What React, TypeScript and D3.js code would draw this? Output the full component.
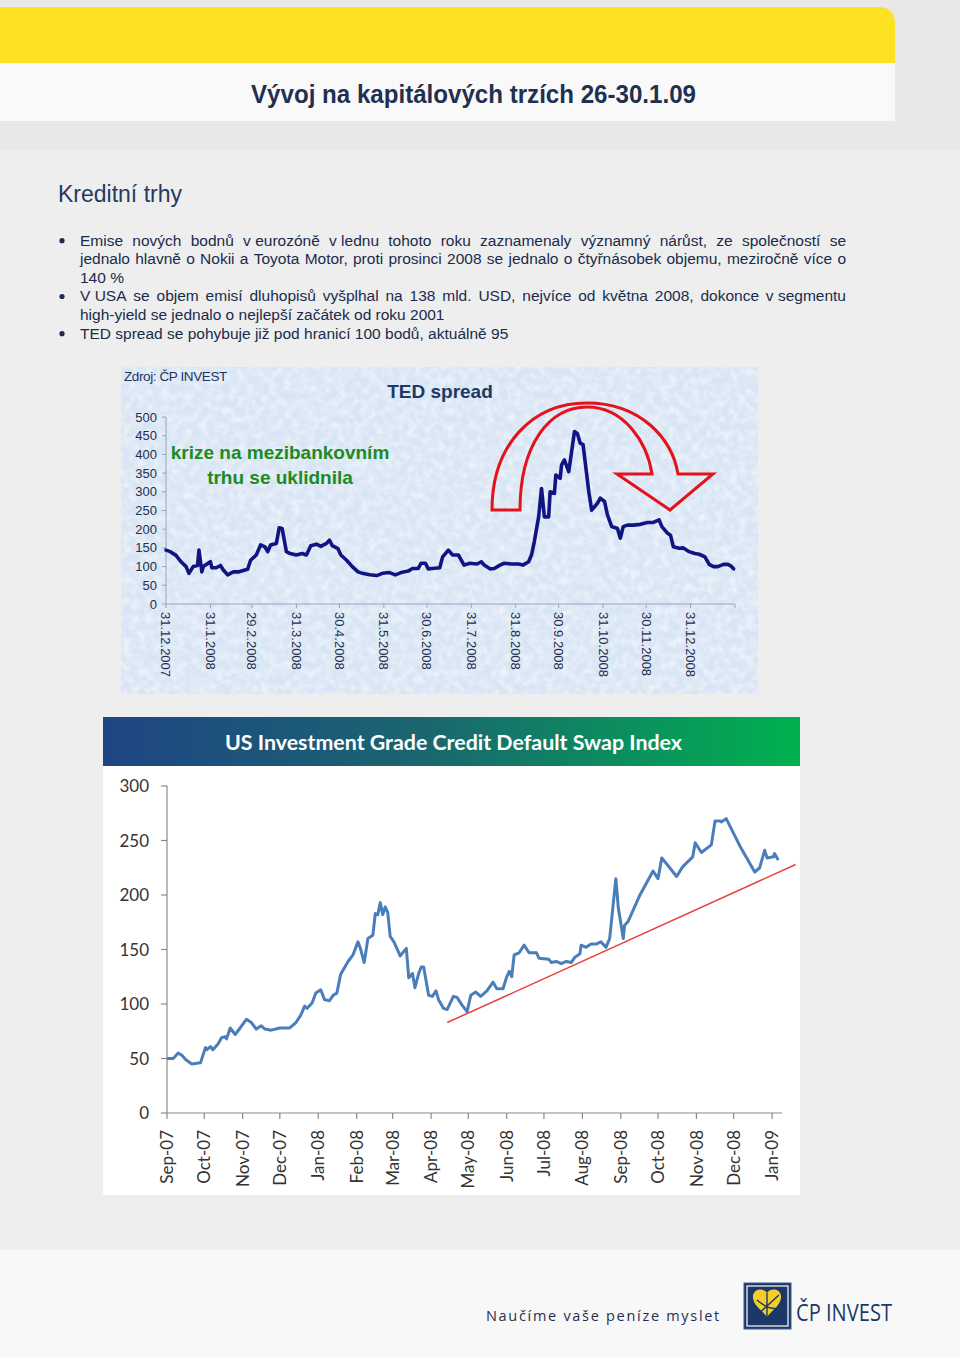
import React, { useEffect, useRef } from "react";
import * as d3 from "d3";

const W = 960;
const H = 1358;

const PAGE_TITLE = "Vývoj na kapitálových trzích 26-30.1.09";
const SECTION_TITLE = "Kreditní trhy";
const BULLET_TEXT = [
  "Emise nových bodnů v\u00a0eurozóně v\u00a0lednu tohoto roku zaznamenaly významný nárůst, ze společností se",
  "jednalo hlavně o Nokii a Toyota Motor, proti prosinci 2008 se jednalo o čtyřnásobek objemu, meziročně více o",
  "140 %",
  "V\u00a0USA se objem emisí dluhopisů vyšplhal na 138 mld. USD, nejvíce od května 2008, dokonce v\u00a0segmentu",
  "high-yield se jednalo o nejlepší začátek od roku 2001",
  "TED spread se pohybuje již pod hranicí 100 bodů, aktuálně 95",
];
const BULLET_START = [true, false, false, true, false, true];
const BULLET_JUSTIFY = [true, true, false, true, false, false];

// ---- TED spread chart ----
const TED_TITLE = "TED spread";
const TED_SOURCE = "Zdroj: ČP INVEST";
const TED_NOTE = ["krize na mezibankovním", "trhu se uklidnila"];
const TED_DATES = [
  "2007-12-31", "2008-01-03", "2008-01-07", "2008-01-10", "2008-01-14", "2008-01-16", "2008-01-19", "2008-01-22",
  "2008-01-23", "2008-01-25", "2008-01-26", "2008-01-31", "2008-02-01", "2008-02-04", "2008-02-07", "2008-02-09",
  "2008-02-12", "2008-02-16", "2008-02-20", "2008-02-24", "2008-02-26", "2008-02-28", "2008-03-03", "2008-03-06",
  "2008-03-09", "2008-03-11", "2008-03-13", "2008-03-17", "2008-03-19", "2008-03-21", "2008-03-24", "2008-03-26",
  "2008-03-31", "2008-04-04", "2008-04-07", "2008-04-10", "2008-04-14", "2008-04-17", "2008-04-21", "2008-04-23",
  "2008-04-25", "2008-04-29", "2008-05-01", "2008-05-05", "2008-05-09", "2008-05-13", "2008-05-16", "2008-05-21",
  "2008-05-26", "2008-05-30", "2008-06-04", "2008-06-08", "2008-06-12", "2008-06-17", "2008-06-20", "2008-06-24",
  "2008-06-26", "2008-06-29", "2008-07-01", "2008-07-04", "2008-07-09", "2008-07-11", "2008-07-15", "2008-07-18",
  "2008-07-22", "2008-07-26", "2008-07-30", "2008-08-04", "2008-08-07", "2008-08-09", "2008-08-13", "2008-08-16",
  "2008-08-20", "2008-08-23", "2008-08-28", "2008-09-02", "2008-09-05", "2008-09-09", "2008-09-11", "2008-09-13",
  "2008-09-16", "2008-09-18", "2008-09-20", "2008-09-23", "2008-09-24", "2008-09-27", "2008-09-28", "2008-10-01",
  "2008-10-02", "2008-10-04", "2008-10-07", "2008-10-09", "2008-10-11", "2008-10-13", "2008-10-15", "2008-10-17",
  "2008-10-19", "2008-10-21", "2008-10-23", "2008-10-25", "2008-10-27", "2008-10-29", "2008-11-01", "2008-11-03",
  "2008-11-06", "2008-11-10", "2008-11-12", "2008-11-14", "2008-11-17", "2008-11-21", "2008-11-26", "2008-12-01",
  "2008-12-05", "2008-12-09", "2008-12-11", "2008-12-15", "2008-12-17", "2008-12-19", "2008-12-23", "2008-12-26",
  "2008-12-30", "2009-01-03", "2009-01-06", "2009-01-10", "2009-01-13", "2009-01-16", "2009-01-19", "2009-01-23",
  "2009-01-26", "2009-01-28", "2009-01-30",
];
const TED_VALUES = [
  144, 140, 130, 115, 100, 82, 100, 103, 144, 86, 100, 113, 97, 97, 103, 91,
  78, 86, 86, 91, 93, 117, 131, 158, 153, 140, 158, 162, 204, 202, 140, 136,
  131, 135, 131, 156, 160, 154, 162, 171, 156, 148, 131, 117, 100, 86, 82, 78,
  76, 82, 84, 78, 84, 88, 95, 95, 109, 109, 94, 95, 97, 126, 144, 131,
  131, 104, 109, 107, 113, 104, 94, 95, 104, 109, 107, 107, 104, 113, 131, 167,
  233, 309, 233, 233, 300, 296, 345, 336, 372, 385, 354, 407, 461, 456, 430, 426,
  363, 300, 251, 260, 269, 283, 274, 238, 207, 202, 176, 207, 211, 211, 213, 218,
  218, 225, 207, 189, 184, 153, 149, 150, 140, 135, 133, 126, 106, 100, 100, 106,
  106, 102, 94,
];
const TED_X_DOMAIN = ["2007-12-31", "2009-01-31"];
const TED_X_TICKS = [
  "2007-12-31", "2008-01-31", "2008-02-29", "2008-03-31", "2008-04-30", "2008-05-31", "2008-06-30",
  "2008-07-31", "2008-08-31", "2008-09-30", "2008-10-31", "2008-11-30", "2008-12-31",
];
const TED_Y_TICKS = [0, 50, 100, 150, 200, 250, 300, 350, 400, 450, 500];

// ---- CDS chart ----
const CDS_TITLE = "US Investment Grade Credit Default Swap Index";
const CDS_DATES = [
  "2007-09-01", "2007-09-06", "2007-09-10", "2007-09-13", "2007-09-16", "2007-09-21", "2007-09-28", "2007-10-02",
  "2007-10-03", "2007-10-06", "2007-10-08", "2007-10-12", "2007-10-15", "2007-10-18", "2007-10-19", "2007-10-22",
  "2007-10-26", "2007-10-30", "2007-11-04", "2007-11-08", "2007-11-12", "2007-11-16", "2007-11-19", "2007-11-24",
  "2007-12-01", "2007-12-09", "2007-12-14", "2007-12-18", "2007-12-21", "2007-12-23", "2007-12-27", "2007-12-30",
  "2008-01-03", "2008-01-06", "2008-01-10", "2008-01-13", "2008-01-16", "2008-01-19", "2008-01-25", "2008-01-29",
  "2008-02-02", "2008-02-04", "2008-02-07", "2008-02-08", "2008-02-10", "2008-02-14", "2008-02-16", "2008-02-18",
  "2008-02-20", "2008-02-22", "2008-02-24", "2008-02-26", "2008-02-28", "2008-03-02", "2008-03-06", "2008-03-07",
  "2008-03-12", "2008-03-14", "2008-03-17", "2008-03-19", "2008-03-22", "2008-03-24", "2008-03-26", "2008-03-30",
  "2008-04-02", "2008-04-05", "2008-04-07", "2008-04-11", "2008-04-14", "2008-04-19", "2008-04-22", "2008-04-26",
  "2008-04-30", "2008-05-03", "2008-05-07", "2008-05-11", "2008-05-16", "2008-05-21", "2008-05-24", "2008-05-29",
  "2008-06-01", "2008-06-03", "2008-06-05", "2008-06-07", "2008-06-11", "2008-06-15", "2008-06-19", "2008-06-25",
  "2008-06-27", "2008-07-05", "2008-07-07", "2008-07-11", "2008-07-15", "2008-07-19", "2008-07-23", "2008-07-26",
  "2008-07-30", "2008-07-31", "2008-08-04", "2008-08-08", "2008-08-12", "2008-08-16", "2008-08-20", "2008-08-23",
  "2008-08-28", "2008-08-30", "2008-09-03", "2008-09-04", "2008-09-07", "2008-09-16", "2008-09-27", "2008-10-01",
  "2008-10-04", "2008-10-09", "2008-10-16", "2008-10-21", "2008-10-29", "2008-10-31", "2008-11-05", "2008-11-13",
  "2008-11-16", "2008-11-20", "2008-11-21", "2008-11-25", "2008-12-06", "2008-12-18", "2008-12-22", "2008-12-26",
  "2008-12-28", "2009-01-02", "2009-01-03", "2009-01-06",
];
const CDS_VALUES = [
  50, 50, 55, 53, 49, 45, 46, 60, 58, 61, 58, 63, 69, 70, 68, 78,
  72, 78, 86, 83, 77, 80, 77, 76, 78, 78, 83, 90, 98, 96, 101, 110,
  113, 104, 103, 108, 110, 127, 139, 145, 157, 151, 138, 145, 160, 163, 183, 182,
  193, 182, 189, 184, 162, 157, 147, 144, 151, 124, 128, 115, 128, 134, 134, 108,
  107, 112, 104, 96, 95, 107, 106, 99, 93, 108, 111, 107, 112, 120, 114, 114,
  125, 130, 125, 145, 147, 154, 147, 147, 142, 141, 138, 139, 137, 139, 138, 143,
  146, 154, 152, 155, 155, 157, 152, 160, 215, 188, 160, 172, 176, 199, 222, 215,
  234, 227, 217, 226, 235, 248, 239, 246, 268, 268, 267, 270, 245, 221, 225, 241,
  234, 235, 238, 232,
];
const CDS_TREND_DATES = ["2008-04-14", "2009-01-20"];
const CDS_TREND_VALUES = [83, 228];
const CDS_X_DOMAIN = ["2007-09-01", "2009-01-09"];
const CDS_X_TICKS = [
  "2007-09-01", "2007-10-01", "2007-11-01", "2007-12-01", "2008-01-01", "2008-02-01", "2008-03-01", "2008-04-01",
  "2008-05-01", "2008-06-01", "2008-07-01", "2008-08-01", "2008-09-01", "2008-10-01", "2008-11-01", "2008-12-01",
  "2009-01-01",
];
const CDS_Y_TICKS = [0, 50, 100, 150, 200, 250, 300];

const FOOTER_SLOGAN = "Naučíme vaše peníze myslet";
const FOOTER_BRAND = "ČP INVEST";

const parse = d3.timeParse("%Y-%m-%d");
const fmtTed = (d: Date) => `${d.getDate()}.${d.getMonth() + 1}.${d.getFullYear()}`;
const fmtCds = d3.timeFormat("%b-%y");

export default function App() {
  const ref = useRef<SVGSVGElement>(null);

  useEffect(() => {
    document.body.style.margin = "0";
    document.body.style.overflow = "hidden";
    const svg = d3.select(ref.current!);
    svg.selectAll("*").remove();

    const defs = svg.append("defs");
    const grad = defs.append("linearGradient").attr("id", "cdsHead").attr("x1", "0").attr("x2", "1").attr("y1", "0").attr("y2", "0");
    grad.append("stop").attr("offset", "0%").attr("stop-color", "#1f4584");
    grad.append("stop").attr("offset", "45%").attr("stop-color", "#1a6570");
    grad.append("stop").attr("offset", "100%").attr("stop-color", "#00b14f");

    const filt = defs.append("filter").attr("id", "tex").attr("x", 0).attr("y", 0).attr("width", "100%").attr("height", "100%");
    filt.append("feTurbulence").attr("type", "fractalNoise").attr("baseFrequency", "0.13").attr("numOctaves", 2).attr("seed", 7);
    filt.append("feColorMatrix").attr("type", "matrix")
      .attr("values", "0 0 0 0 1  0 0 0 0 1  0 0 0 0 1  2.0 0 0 0 -0.7");

    // ---- page background ----
    svg.append("rect").attr("x", 0).attr("y", 0).attr("width", W).attr("height", 1250).attr("fill", "#eeeeee");
    svg.append("rect").attr("x", 0).attr("y", 0).attr("width", W).attr("height", 150).attr("fill", "#e8e8e8");
    svg.append("rect").attr("x", 0).attr("y", 1250).attr("width", W).attr("height", H - 1250).attr("fill", "#f8f8f8");
    svg.append("path").attr("d", "M0,7 H878 Q895,7 895,24 V63 H0 Z").attr("fill", "#fde123");
    svg.append("rect").attr("x", 0).attr("y", 63).attr("width", 895).attr("height", 58).attr("fill", "#f9f9f9");

    svg.append("text").attr("x", 251).attr("y", 103)
      .attr("font-family", "'Liberation Sans', Arial, sans-serif")
      .attr("font-weight", "bold").attr("font-size", 25).attr("fill", "#1f3050")
      .attr("textLength", 445).attr("lengthAdjust", "spacingAndGlyphs").text(PAGE_TITLE);

    svg.append("text").attr("x", 58).attr("y", 202)
      .attr("font-family", "'Liberation Sans', Arial, sans-serif").attr("font-size", 23).attr("fill", "#243a5e").text(SECTION_TITLE);

    // ---- bullets ----
    const bg = svg.append("g").attr("font-family", "'Liberation Sans', Arial, sans-serif").attr("font-size", 15.5).attr("fill", "#1a2b4c");
    const x0 = 80, x1 = 846;
    BULLET_TEXT.forEach((line, i) => {
      const y = 245.5 + i * 18.6;
      if (BULLET_START[i]) bg.append("circle").attr("cx", 62).attr("cy", y - 4.8).attr("r", 2.6).attr("fill", "#1a2b4c");
      if (!BULLET_JUSTIFY[i]) {
        bg.append("text").attr("x", x0).attr("y", y).text(line);
        return;
      }
      const words = line.split(" ");
      const nodes = words.map((w) => bg.append("text").attr("y", y).text(w));
      const widths = nodes.map((n) => (n.node() as SVGTextElement).getComputedTextLength());
      const total = widths.reduce((a, b) => a + b, 0);
      const gap = (x1 - x0 - total) / (words.length - 1);
      let x = x0;
      nodes.forEach((n, k) => {
        n.attr("x", x);
        x += widths[k] + gap;
      });
    });

    // ---- TED chart ----
    const ted = svg.append("g");
    ted.append("rect").attr("x", 121).attr("y", 367).attr("width", 637).attr("height", 327).attr("fill", "#d8e5f4");
    ted.append("rect").attr("x", 121).attr("y", 367).attr("width", 637).attr("height", 327).attr("filter", "url(#tex)").attr("opacity", 0.55);

    const tx = d3.scaleTime().domain(TED_X_DOMAIN.map((d) => parse(d)!)).range([166, 735]);
    const ty = d3.scaleLinear().domain([0, 500]).range([604, 417]);
    const tf = "'Liberation Sans', Arial, sans-serif";

    ted.append("text").attr("x", 124).attr("y", 381).attr("font-family", tf).attr("font-size", 13.5)
      .attr("letter-spacing", -0.4).attr("fill", "#1f3560").text(TED_SOURCE);
    ted.append("text").attr("x", 440).attr("y", 398).attr("text-anchor", "middle").attr("font-family", tf)
      .attr("font-weight", "bold").attr("font-size", 19).attr("fill", "#1f3864").text(TED_TITLE);

    const axisColor = "#94a6c2";
    ted.append("line").attr("x1", 166).attr("x2", 166).attr("y1", ty(500)).attr("y2", ty(0)).attr("stroke", axisColor);
    ted.append("line").attr("x1", 166).attr("x2", 735).attr("y1", ty(0)).attr("y2", ty(0)).attr("stroke", axisColor);
    TED_Y_TICKS.forEach((v) => {
      ted.append("line").attr("x1", 162).attr("x2", 166).attr("y1", ty(v)).attr("y2", ty(v)).attr("stroke", axisColor);
      ted.append("text").attr("x", 157).attr("y", ty(v) + 4.5).attr("text-anchor", "end").attr("font-family", tf)
        .attr("font-size", 13).attr("fill", "#1f2f50").text(String(v));
    });
    [...TED_X_TICKS, TED_X_DOMAIN[1]].forEach((d) => {
      const x = tx(parse(d)!);
      ted.append("line").attr("x1", x).attr("x2", x).attr("y1", ty(0)).attr("y2", ty(0) + 4).attr("stroke", axisColor);
    });
    TED_X_TICKS.forEach((d) => {
      const dt = parse(d)!;
      ted.append("text").attr("transform", `translate(${tx(dt)},612) rotate(90)`).attr("dy", "0.35em")
        .attr("font-family", tf).attr("font-size", 13).attr("fill", "#1f2f50").text(fmtTed(dt));
    });

    TED_NOTE.forEach((t, i) => {
      ted.append("text").attr("x", 280).attr("y", 458.5 + i * 25.5).attr("text-anchor", "middle").attr("font-family", tf)
        .attr("font-weight", "bold").attr("font-size", 19).attr("fill", "#1d8a22").text(t);
    });

    const tedData = TED_DATES.map((d, i) => ({ d: parse(d)!, v: TED_VALUES[i] }));
    const tedLine = d3.line<{ d: Date; v: number }>().x((p) => tx(p.d)).y((p) => ty(p.v));
    ted.append("path").attr("d", tedLine(tedData)!).attr("fill", "none").attr("stroke", "#111584")
      .attr("stroke-width", 3.6).attr("stroke-linejoin", "round").attr("stroke-linecap", "round");

    // curved arrow
    ted.append("path")
      .attr("d", "M492,510 C492,445 532,403 587,403 C640,403 672,438 678,474 L713,474 L670,510 L617,474 L652,474 C647,442 624,407 587,407 C549,407 520,445 520,510 Z")
      .attr("fill", "none").attr("stroke", "#e3121b").attr("stroke-width", 3).attr("stroke-linejoin", "miter");

    // ---- CDS chart ----
    const cds = svg.append("g");
    cds.append("rect").attr("x", 103).attr("y", 717).attr("width", 697).attr("height", 49).attr("fill", "url(#cdsHead)");
    cds.append("rect").attr("x", 103).attr("y", 766).attr("width", 697).attr("height", 429).attr("fill", "#ffffff");
    cds.append("text").attr("x", 225).attr("y", 750)
      .attr("font-family", "Lato, 'Open Sans', sans-serif").attr("font-weight", "bold").attr("font-size", 21)
      .attr("textLength", 457).attr("lengthAdjust", "spacingAndGlyphs")
      .attr("fill", "#ffffff").text(CDS_TITLE);

    const cx = d3.scaleTime().domain(CDS_X_DOMAIN.map((d) => parse(d)!)).range([167, 782]);
    const cy = d3.scaleLinear().domain([0, 300]).range([1113, 786]);
    const cf = "Lato, 'Open Sans', sans-serif";
    const cAxis = "#8a8a8a";
    cds.append("line").attr("x1", 167).attr("x2", 167).attr("y1", cy(300)).attr("y2", cy(0)).attr("stroke", cAxis).attr("stroke-width", 1.2);
    cds.append("line").attr("x1", 167).attr("x2", 782).attr("y1", cy(0)).attr("y2", cy(0)).attr("stroke", cAxis).attr("stroke-width", 1.2);
    CDS_Y_TICKS.forEach((v) => {
      cds.append("line").attr("x1", 161).attr("x2", 167).attr("y1", cy(v)).attr("y2", cy(v)).attr("stroke", cAxis).attr("stroke-width", 1.2);
      cds.append("text").attr("x", 149).attr("y", cy(v) + 6).attr("text-anchor", "end").attr("font-family", cf)
        .attr("font-size", 17).attr("fill", "#333333").text(String(v));
    });
    CDS_X_TICKS.forEach((d) => {
      const dt = parse(d)!;
      const x = cx(dt);
      cds.append("line").attr("x1", x).attr("x2", x).attr("y1", cy(0)).attr("y2", cy(0) + 6).attr("stroke", cAxis).attr("stroke-width", 1.2);
      cds.append("text").attr("transform", `translate(${x},1130) rotate(-90)`).attr("dy", "0.36em").attr("text-anchor", "end")
        .attr("font-family", cf).attr("font-size", 17).attr("fill", "#333333").text(fmtCds(dt));
    });

    const cdsData = CDS_DATES.map((d, i) => ({ d: parse(d)!, v: CDS_VALUES[i] }));
    const cdsLine = d3.line<{ d: Date; v: number }>().x((p) => cx(p.d)).y((p) => cy(p.v));
    cds.append("path").attr("d", cdsLine(cdsData)!).attr("fill", "none").attr("stroke", "#4a7ebb")
      .attr("stroke-width", 3).attr("stroke-linejoin", "round");
    const trend = CDS_TREND_DATES.map((d, i) => ({ d: parse(d)!, v: CDS_TREND_VALUES[i] }));
    cds.append("path").attr("d", cdsLine(trend)!).attr("fill", "none").attr("stroke", "#e8403f").attr("stroke-width", 1.5);

    // ---- footer ----
    svg.append("text").attr("x", 486).attr("y", 1321).attr("font-family", "'Open Sans', sans-serif").attr("font-size", 14.5)
      .attr("letter-spacing", 1.7).attr("fill", "#1f3050").text(FOOTER_SLOGAN);
    const logo = svg.append("g");
    logo.append("rect").attr("x", 744).attr("y", 1283).attr("width", 47).attr("height", 46).attr("fill", "#1c3868")
      .attr("stroke", "#3c5a8c").attr("stroke-width", 1);
    logo.append("rect").attr("x", 747).attr("y", 1286).attr("width", 41).attr("height", 40).attr("fill", "none")
      .attr("stroke", "#ffffff").attr("stroke-width", 1.2);
    logo.append("path")
      .attr("d", "M767,1293 C763,1287 752,1289 753,1298 C754,1306 762,1310 767,1317 C772,1310 780,1306 781,1298 C782,1289 771,1287 767,1293 Z")
      .attr("fill", "#f3cd2d");
    logo.append("path").attr("d", "M756,1316 L779,1295 M757,1300 C764,1306 772,1310 779,1308 M767,1293 L767,1322")
      .attr("stroke", "#1c3868").attr("stroke-width", 1.4).attr("fill", "none");
    svg.append("text").attr("x", 796).attr("y", 1321).attr("font-family", "'Open Sans', sans-serif")
      .attr("font-size", 23).attr("textLength", 96).attr("lengthAdjust", "spacingAndGlyphs")
      .attr("fill", "#1c3868").text(FOOTER_BRAND);
  }, []);

  return <svg ref={ref} width={W} height={H} style={{ position: "absolute", left: 0, top: 0, display: "block" }} />;
}
